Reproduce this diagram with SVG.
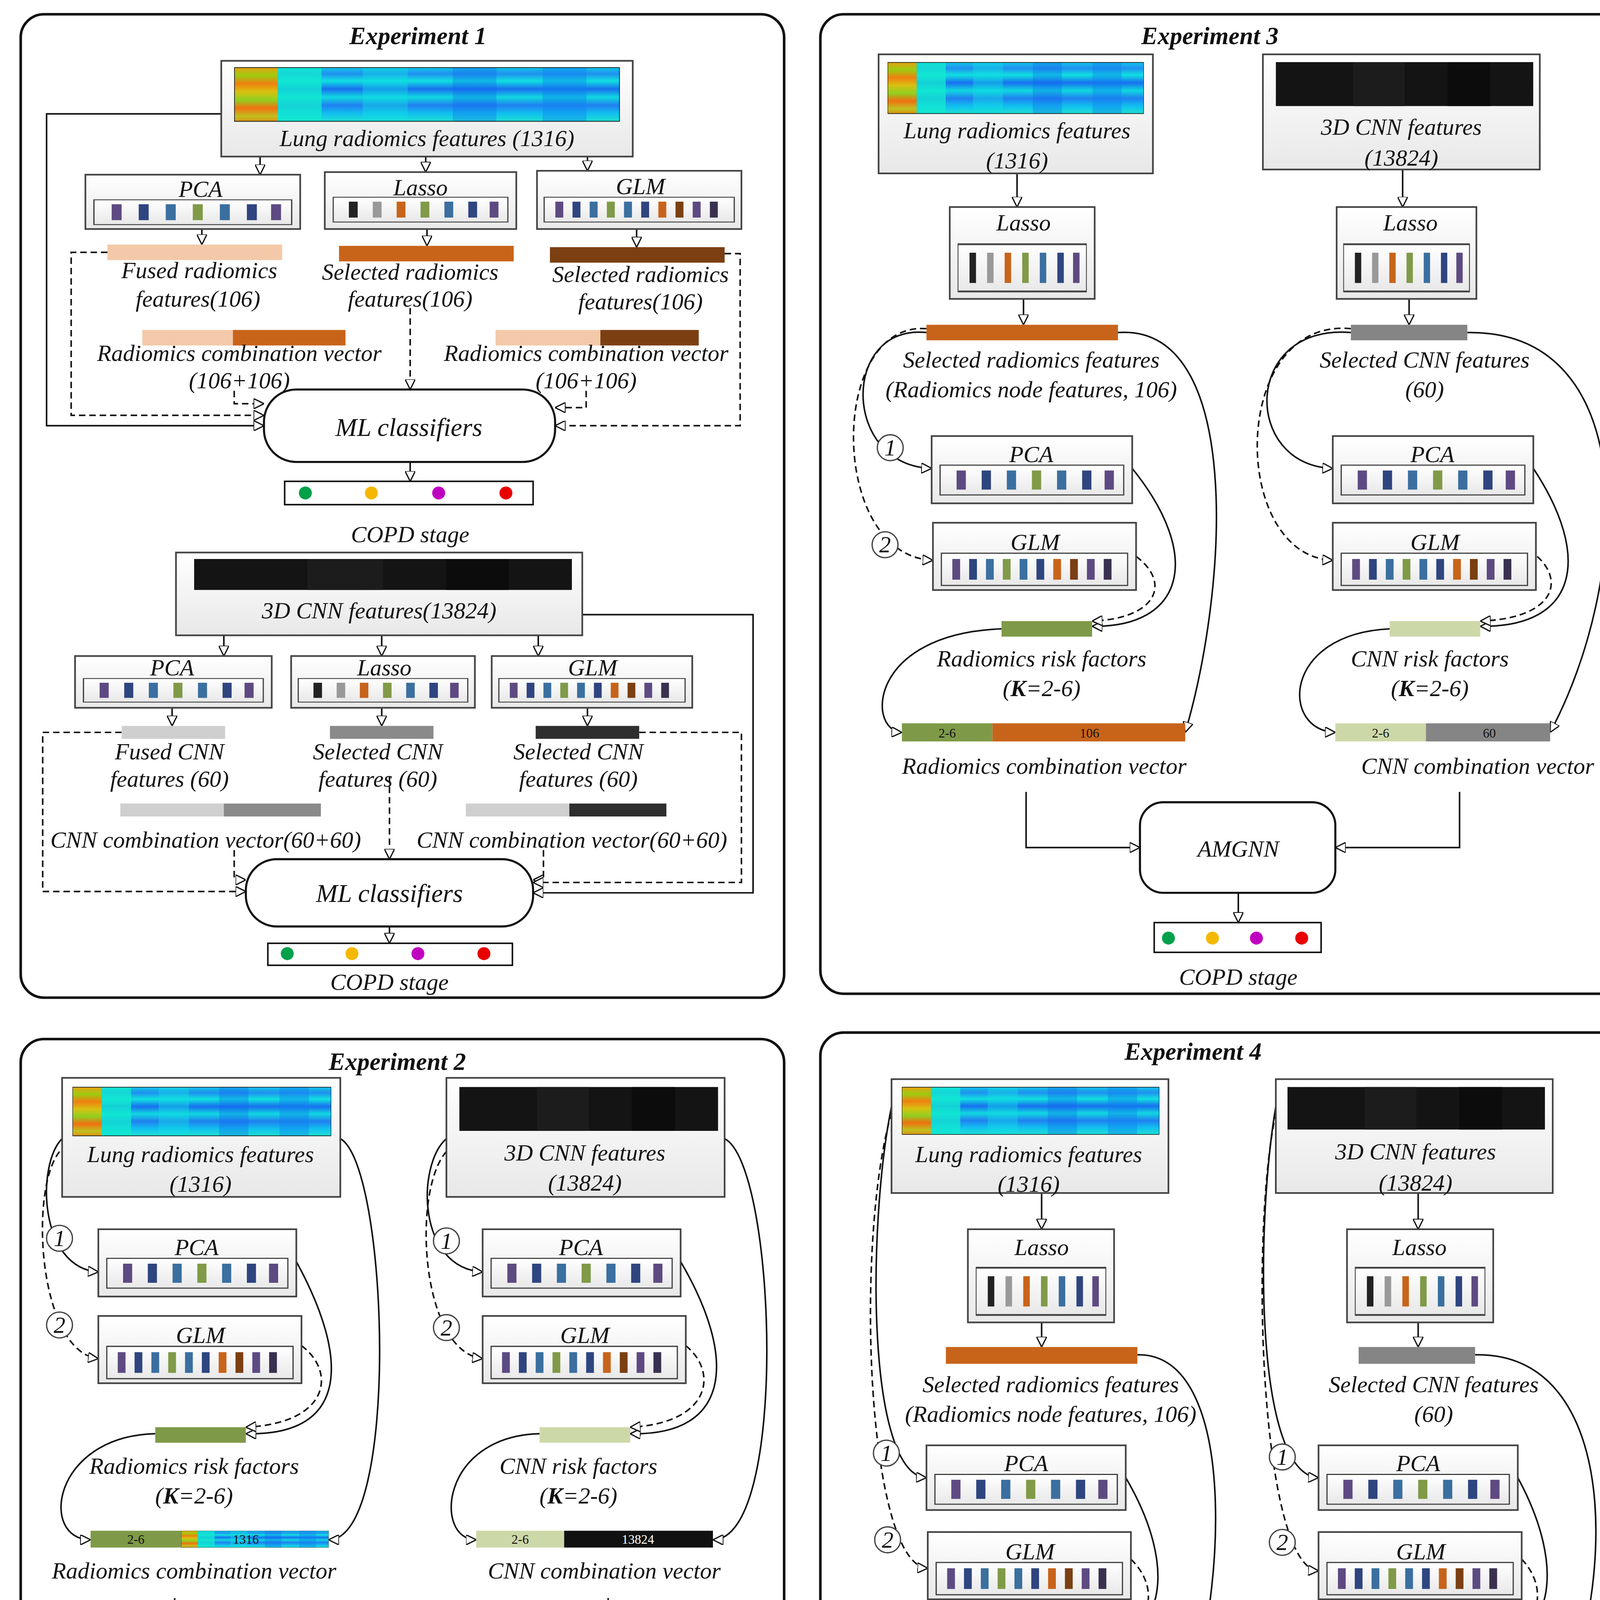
<svg xmlns="http://www.w3.org/2000/svg" xmlns:xlink="http://www.w3.org/1999/xlink" width="4240" height="5163" viewBox="0 0 4240 5163">
<style>
text{font-family:"Liberation Serif",serif;font-style:italic;fill:#111;text-anchor:middle}
.t{font-size:18px}
.h{font-size:19px;font-weight:bold}
.s{font-size:10px;font-style:normal}
.panel{fill:#fff;stroke:#111;stroke-width:2}
.box{fill:url(#bg);stroke:#444;stroke-width:1.3}
.rbox{fill:#fff;stroke:#111;stroke-width:1.6}
.leg{fill:#eef0e4;stroke:#555;stroke-width:1}
.c{fill:none;stroke:#111;stroke-width:1.2}
.d{fill:none;stroke:#111;stroke-width:1.2;stroke-dasharray:5,3}
.a{marker-end:url(#ar)}
.circ{fill:#fff;stroke:#444;stroke-width:1}
</style>
<defs>
<linearGradient id="bg" x1="0" y1="0" x2="0" y2="1"><stop offset="0" stop-color="#fff"/><stop offset="1" stop-color="#e8e8e8"/></linearGradient>
<linearGradient id="warm" x1="0" y1="0" x2="0" y2="1"><stop offset="0" stop-color="#e8a010"/><stop offset=".15" stop-color="#9ccc10"/><stop offset=".3" stop-color="#f08010"/><stop offset=".45" stop-color="#d8c010"/><stop offset=".6" stop-color="#90d020"/><stop offset=".75" stop-color="#f07010"/><stop offset=".9" stop-color="#c0c020"/><stop offset="1" stop-color="#e09010"/></linearGradient>
<linearGradient id="cool" x1="0" y1="0" x2="0" y2="1"><stop offset="0" stop-color="#10c8e8"/><stop offset=".12" stop-color="#2090f0"/><stop offset=".25" stop-color="#10e0e0"/><stop offset=".4" stop-color="#1870f0"/><stop offset=".55" stop-color="#10d8e0"/><stop offset=".7" stop-color="#2080f0"/><stop offset=".85" stop-color="#10c0f0"/><stop offset="1" stop-color="#20e0d0"/></linearGradient>
<marker id="ar" viewBox="0 0 10 10" refX="10" refY="5" markerWidth="8" markerHeight="8" orient="auto" markerUnits="userSpaceOnUse"><path d="M0,0 L10,5 L0,10 Z" fill="#fff" stroke="#111" stroke-width="1.2"/></marker>
<symbol id="heat" viewBox="0 0 300 40" preserveAspectRatio="none"><rect width="300" height="40" fill="url(#cool)"/><rect width="34" height="40" fill="url(#warm)"/><rect x="34" width="34" height="40" fill="#12e8d0" opacity=".8"/><rect x="100" width="35" height="40" fill="#10e0e0" opacity=".4"/><rect x="170" width="34" height="40" fill="#1060f0" opacity=".3"/><rect x="240" width="34" height="40" fill="#1080f0" opacity=".4"/><rect x="0" y="0" width="300" height="40" fill="none" stroke="#111" stroke-width="1"/></symbol>
<symbol id="dark" viewBox="0 0 300 40" preserveAspectRatio="none"><rect width="300" height="40" fill="#141414"/><rect x="90" width="60" height="40" fill="#1c1c1c"/><rect x="200" width="50" height="40" fill="#0c0c0c"/></symbol>
<symbol id="pca" viewBox="0 0 140 26" preserveAspectRatio="none"><rect x=".5" y=".5" width="139" height="25" fill="url(#bg)" stroke="#444"/><rect x="13" y="5" width="7" height="16" fill="#5e4a82"/><rect x="32" y="5" width="7" height="16" fill="#2f4580"/><rect x="51" y="5" width="7" height="16" fill="#3a6fa0"/><rect x="70" y="5" width="7" height="16" fill="#809a48"/><rect x="89" y="5" width="7" height="16" fill="#3a6fa0"/><rect x="108" y="5" width="7" height="16" fill="#2f4580"/><rect x="125" y="5" width="7" height="16" fill="#5e4a82"/></symbol>
<symbol id="lasso" viewBox="0 0 140 26" preserveAspectRatio="none"><rect x=".5" y=".5" width="139" height="25" fill="url(#bg)" stroke="#444"/><rect x="13" y="5" width="7" height="16" fill="#222"/><rect x="32" y="5" width="7" height="16" fill="#999"/><rect x="51" y="5" width="7" height="16" fill="#c8641a"/><rect x="70" y="5" width="7" height="16" fill="#809a48"/><rect x="89" y="5" width="7" height="16" fill="#3a6fa0"/><rect x="108" y="5" width="7" height="16" fill="#2f4580"/><rect x="125" y="5" width="7" height="16" fill="#5e4a82"/></symbol>
<symbol id="glm" viewBox="0 0 145 26" preserveAspectRatio="none"><rect x=".5" y=".5" width="144" height="25" fill="url(#bg)" stroke="#444"/><rect x="9" y="5" width="6" height="16" fill="#5e4a82"/><rect x="22" y="5" width="6" height="16" fill="#2f4580"/><rect x="35" y="5" width="6" height="16" fill="#3a6fa0"/><rect x="48" y="5" width="6" height="16" fill="#809a48"/><rect x="61" y="5" width="6" height="16" fill="#3a6fa0"/><rect x="74" y="5" width="6" height="16" fill="#2f4580"/><rect x="87" y="5" width="6" height="16" fill="#c8641a"/><rect x="100" y="5" width="6" height="16" fill="#7b3f12"/><rect x="113" y="5" width="6" height="16" fill="#5e4a82"/><rect x="126" y="5" width="6" height="16" fill="#3a3050"/></symbol>
</defs>
<g transform="scale(3.3125)">
<rect width="1280" height="1559" fill="#fff"/>
<g id="panels">
<rect class="panel" x="16" y="11" width="590" height="760" rx="18"/>
<rect class="panel" x="634" y="11" width="643" height="757" rx="18"/>
<rect class="panel" x="16" y="803" width="590" height="592" rx="18"/>
<rect class="panel" x="634" y="798" width="643" height="755" rx="18"/>
<rect x="16" y="1412" width="592" height="140" rx="18" fill="#fff" stroke="#111" stroke-width="1.3" stroke-dasharray="12,6"/>
<text class="h" x="323" y="34">Experiment 1</text>
<text class="h" x="935" y="34">Experiment 3</text>
<text class="h" x="307" y="827">Experiment 2</text>
<text class="h" x="922" y="819">Experiment 4</text>
</g>
<g id="connectors">
<!-- exp1 -->
<path class="c a" d="M201,121V135"/><path class="c a" d="M329,121V133"/><path class="c a" d="M454,121V132"/>
<path class="c a" d="M156,177V189"/><path class="c a" d="M330,177V190"/><path class="c a" d="M492,177V191"/>
<path class="c a" d="M171,88H36V329H204"/>
<path class="d a" d="M83,195H55V321H204"/>
<path class="d a" d="M181,302V312H204"/>
<path class="d a" d="M317,238V301"/>
<path class="d a" d="M453,302V315H429"/>
<path class="d a" d="M560,196H572V329H429"/>
<path class="c a" d="M317,357V372"/>
<path class="c a" d="M173,491V507"/><path class="c a" d="M295,491V507"/><path class="c a" d="M416,491V507"/>
<path class="c a" d="M133,547V561"/><path class="c a" d="M295,547V561"/><path class="c a" d="M454,547V561"/>
<path class="c a" d="M450,475H582V690H412"/>
<path class="d a" d="M94,566H33V689H190"/>
<path class="d a" d="M181,657V680H190"/>
<path class="d a" d="M301,600V664"/>
<path class="d a" d="M420,657V680H412"/>
<path class="d a" d="M494,566H573V682H412"/>
<path class="c a" d="M301,716V729"/>
<!-- exp2 -->
<path class="c a" d="M48,880C28,900 30,980 76,983"/>
<path class="d a" d="M46,890C22,920 30,1045 76,1050"/>
<path class="c a" d="M229,975C270,1050 270,1110 190,1108"/>
<path class="d a" d="M233,1040C260,1060 255,1100 190,1103"/>
<path class="c a" d="M120,1108C40,1110 30,1190 70,1190"/>
<path class="c a" d="M263,880C300,900 310,1190 254,1190"/>
<path class="c a" d="M345,880C322,900 322,980 373,983"/>
<path class="d a" d="M345,890C318,920 325,1045 373,1050"/>
<path class="c a" d="M526,975C570,1050 565,1110 487,1108"/>
<path class="d a" d="M530,1040C555,1060 550,1100 487,1103"/>
<path class="c a" d="M417,1108C340,1110 335,1190 368,1190"/>
<path class="c a" d="M560,880C600,900 610,1190 551,1190"/>
<path class="c a" d="M135,1235V1276H223"/>
<path class="c a" d="M470,1235V1276H375"/>
<path class="c a" d="M300,1311V1337"/>
<!-- exp3 -->
<path class="c a" d="M786,134V160"/><path class="c a" d="M1084,131V160"/><path class="c a" d="M791,231V251"/><path class="c a" d="M1089,231V251"/>
<path class="c a" d="M716,257C650,250 650,360 720,362"/>
<path class="d a" d="M716,254C640,248 640,430 721,433"/>
<path class="c a" d="M875,362C930,430 915,485 844,484"/>
<path class="d a" d="M878,430C905,450 895,478 844,480"/>
<path class="c a" d="M774,486C670,490 670,565 697,566"/>
<path class="c a" d="M864,257C960,250 950,450 916,566"/>
<path class="c a" d="M1044,257C960,250 960,360 1030,362"/>
<path class="d a" d="M1044,254C950,245 950,430 1030,433"/>
<path class="c a" d="M1185,362C1230,430 1220,485 1144,484"/>
<path class="d a" d="M1188,430C1210,450 1200,478 1144,480"/>
<path class="c a" d="M1074,486C990,490 990,565 1032,566"/>
<path class="c a" d="M1134,257C1270,255 1260,450 1198,566"/>
<path class="c a" d="M793,612V655H881"/>
<path class="c a" d="M1128,612V655H1032"/>
<path class="c a" d="M957,690V713"/>
<!-- exp4 -->
<path class="c a" d="M805,922V950"/><path class="c a" d="M1096,922V950"/><path class="c a" d="M805,1022V1041"/><path class="c a" d="M1096,1022V1041"/>
<path class="c a" d="M689,855C670,950 670,1140 716,1142"/>
<path class="d a" d="M689,860C660,960 670,1210 717,1212"/>
<path class="c a" d="M870,1142C910,1210 905,1275 831,1275"/>
<path class="d a" d="M874,1205C900,1230 890,1270 831,1271"/>
<path class="c a" d="M761,1275C670,1280 680,1355 713,1354"/>
<path class="c a" d="M879,1047C960,1045 950,1250 905,1354"/>
<path class="c a" d="M986,855C970,950 970,1140 1019,1142"/>
<path class="d a" d="M986,860C965,960 975,1212 1019,1214"/>
<path class="c a" d="M1173,1142C1210,1210 1205,1275 1134,1275"/>
<path class="d a" d="M1176,1205C1200,1230 1190,1270 1134,1271"/>
<path class="c a" d="M1064,1275C980,1280 985,1355 1027,1357"/>
<path class="c a" d="M1140,1047C1260,1045 1250,1250 1190,1357"/>
<path class="c a" d="M782,1390V1437H870"/>
<path class="c a" d="M1118,1392V1437H1022"/>
<path class="c a" d="M947,1473V1497"/>
</g>
<g id="exp1">
<g id="e1-lung"><rect class="box" x="171" y="47" width="318" height="74"/><use href="#heat" x="181" y="52" width="298" height="42"/><text class="t" x="330" y="113">Lung radiomics features (1316)</text></g>
<g id="e1-pca"><rect class="box" x="66" y="135" width="166" height="42"/><text class="t" x="155" y="152">PCA</text><use href="#pca" x="72" y="154" width="154" height="20"/></g>
<g id="e1-lasso"><rect class="box" x="251" y="133" width="148" height="44"/><text class="t" x="325" y="151">Lasso</text><use href="#lasso" x="257" y="152" width="136" height="20"/></g>
<g id="e1-glm"><rect class="box" x="415" y="132" width="158" height="45"/><text class="t" x="495" y="150">GLM</text><use href="#glm" x="420" y="152" width="148" height="20"/></g>
<rect x="83" y="189" width="135" height="12" fill="#f3c9a9"/>
<rect x="262" y="190" width="135" height="12" fill="#c8641a"/>
<rect x="425" y="191" width="135" height="12" fill="#7b3f12"/>
<text class="t" x="154" y="215">Fused radiomics</text><text class="t" x="153" y="237">features(106)</text>
<text class="t" x="317" y="216">Selected radiomics</text><text class="t" x="317" y="237">features(106)</text>
<text class="t" x="495" y="218">Selected radiomics</text><text class="t" x="495" y="239">features(106)</text>
<rect x="110" y="255" width="70" height="12" fill="#f3c9a9"/><rect x="180" y="255" width="87" height="12" fill="#c8641a"/>
<rect x="383" y="255" width="81" height="12" fill="#f3c9a9"/><rect x="464" y="255" width="76" height="12" fill="#7b3f12"/>
<text class="t" x="185" y="279">Radiomics combination vector</text><text class="t" x="185" y="300">(106+106)</text>
<text class="t" x="453" y="279">Radiomics combination vector</text><text class="t" x="453" y="300">(106+106)</text>
<g id="e1-ml"><rect class="rbox" x="204" y="301" width="225" height="56" rx="25"/><text class="t" x="316" y="337" style="font-size:20px">ML classifiers</text></g>
<g id="e1-copd"><rect x="220" y="372" width="192" height="18" fill="#fff" stroke="#111" stroke-width="1.2"/><circle cx="236" cy="381" r="5" fill="#00a14b"/><circle cx="287" cy="381" r="5" fill="#f5b800"/><circle cx="339" cy="381" r="5" fill="#c000c0"/><circle cx="391" cy="381" r="5" fill="#e80000"/><text class="t" x="317" y="419">COPD stage</text></g>
<g id="e1-cnn"><rect class="box" x="136" y="427" width="314" height="64"/><use href="#dark" x="150" y="432" width="292" height="24"/><text class="t" x="293" y="478">3D CNN features(13824)</text></g>
<g id="e1-pca2"><rect class="box" x="58" y="507" width="152" height="40"/><text class="t" x="133" y="522">PCA</text><use href="#pca" x="64" y="524" width="140" height="19"/></g>
<g id="e1-lasso2"><rect class="box" x="225" y="507" width="142" height="40"/><text class="t" x="297" y="522">Lasso</text><use href="#lasso" x="230" y="524" width="132" height="19"/></g>
<g id="e1-glm2"><rect class="box" x="380" y="507" width="155" height="40"/><text class="t" x="458" y="522">GLM</text><use href="#glm" x="385" y="524" width="145" height="19"/></g>
<rect x="94" y="561" width="80" height="10" fill="#cfcfcf"/><rect x="255" y="561" width="80" height="10" fill="#8a8a8a"/><rect x="414" y="561" width="80" height="10" fill="#2e2e2e"/>
<text class="t" x="131" y="587">Fused CNN</text><text class="t" x="131" y="608">features (60)</text>
<text class="t" x="292" y="587">Selected CNN</text><text class="t" x="292" y="608">features (60)</text>
<text class="t" x="447" y="587">Selected CNN</text><text class="t" x="447" y="608">features (60)</text>
<rect x="93" y="621" width="80" height="10" fill="#cfcfcf"/><rect x="173" y="621" width="75" height="10" fill="#8a8a8a"/>
<rect x="360" y="621" width="80" height="10" fill="#cfcfcf"/><rect x="440" y="621" width="75" height="10" fill="#2e2e2e"/>
<text class="t" x="159" y="655">CNN combination vector(60+60)</text><text class="t" x="442" y="655">CNN combination vector(60+60)</text>
<g id="e1-ml2"><rect class="rbox" x="190" y="664" width="222" height="52" rx="24"/><text class="t" x="301" y="697" style="font-size:20px">ML classifiers</text></g>
<g id="e1-copd2"><rect x="207" y="729" width="189" height="17" fill="#fff" stroke="#111" stroke-width="1.2"/><circle cx="222" cy="737" r="5" fill="#00a14b"/><circle cx="272" cy="737" r="5" fill="#f5b800"/><circle cx="323" cy="737" r="5" fill="#c000c0"/><circle cx="374" cy="737" r="5" fill="#e80000"/><text class="t" x="301" y="765">COPD stage</text></g>
</g>
<g id="exp2">
<g id="e2-lung"><rect class="box" x="48" y="833" width="215" height="92"/><use href="#heat" x="56" y="840" width="200" height="38"/><text class="t" x="155" y="898">Lung radiomics features</text><text class="t" x="155" y="921">(1316)</text></g>
<g id="e2-cnn"><rect class="box" x="345" y="833" width="215" height="92"/><use href="#dark" x="355" y="840" width="200" height="34"/><text class="t" x="452" y="897">3D CNN features</text><text class="t" x="452" y="920">(13824)</text></g>
<g id="e2-pca"><rect class="box" x="76" y="950" width="153" height="52"/><text class="t" x="152" y="970">PCA</text><use href="#pca" x="82" y="972" width="141" height="24"/></g>
<g id="e2-glm"><rect class="box" x="76" y="1017" width="157" height="52"/><text class="t" x="155" y="1038">GLM</text><use href="#glm" x="82" y="1040" width="145" height="26"/></g>
<g id="e2-pca2"><rect class="box" x="373" y="950" width="153" height="52"/><text class="t" x="449" y="970">PCA</text><use href="#pca" x="379" y="972" width="141" height="24"/></g>
<g id="e2-glm2"><rect class="box" x="373" y="1017" width="157" height="52"/><text class="t" x="452" y="1038">GLM</text><use href="#glm" x="379" y="1040" width="145" height="26"/></g>
<circle class="circ" cx="46" cy="957" r="10"/><text class="t" x="46" y="963">1</text>
<circle class="circ" cx="46" cy="1024" r="10"/><text class="t" x="46" y="1030">2</text>
<circle class="circ" cx="345" cy="959" r="10"/><text class="t" x="345" y="965">1</text>
<circle class="circ" cx="345" cy="1026" r="10"/><text class="t" x="345" y="1032">2</text>
<rect x="120" y="1103" width="70" height="12" fill="#7e9a48"/>
<text class="t" x="150" y="1139">Radiomics risk factors</text><text class="t" x="150" y="1162">(<tspan font-weight="bold">K</tspan>=2-6)</text>
<rect x="70" y="1183" width="70" height="13" fill="#7e9a48"/><use href="#heat" x="140" y="1183" width="114" height="13"/>
<text class="s" x="105" y="1193">2-6</text><text class="s" x="190" y="1193">1316</text>
<text class="t" x="150" y="1220">Radiomics combination vector</text>
<rect x="417" y="1103" width="70" height="12" fill="#cdd8a8"/>
<text class="t" x="447" y="1139">CNN risk factors</text><text class="t" x="447" y="1162">(<tspan font-weight="bold">K</tspan>=2-6)</text>
<rect x="368" y="1183" width="68" height="13" fill="#cdd8a8"/><rect x="436" y="1183" width="115" height="13" fill="#111"/>
<text class="s" x="402" y="1193">2-6</text><text class="s" x="493" y="1193" style="fill:#fff">13824</text>
<text class="t" x="467" y="1220">CNN combination vector</text>
<g id="e2-amgnn"><rect class="rbox" x="223" y="1241" width="152" height="70" rx="18"/><text class="t" x="300" y="1283">AMGNN</text></g>
<g id="e2-copd"><rect x="234" y="1337" width="130" height="23" fill="#fff" stroke="#111" stroke-width="1.2"/><circle cx="246" cy="1350" r="5" fill="#00a14b"/><circle cx="280" cy="1350" r="5" fill="#f5b800"/><circle cx="314" cy="1350" r="5" fill="#c000c0"/><circle cx="349" cy="1350" r="5" fill="#e80000"/><text class="t" x="300" y="1386">COPD stage</text></g>
</g>
<g id="exp3">
<g id="e3-lung"><rect class="box" x="679" y="42" width="212" height="92"/><use href="#heat" x="686" y="48" width="198" height="40"/><text class="t" x="786" y="107">Lung radiomics features</text><text class="t" x="786" y="130">(1316)</text></g>
<g id="e3-cnn"><rect class="box" x="976" y="42" width="214" height="89"/><use href="#dark" x="986" y="48" width="199" height="34"/><text class="t" x="1083" y="104">3D CNN features</text><text class="t" x="1083" y="128">(13824)</text></g>
<g id="e3-lasso"><rect class="box" x="734" y="160" width="112" height="71"/><text class="t" x="791" y="178">Lasso</text><use href="#lasso" x="740" y="188" width="100" height="38"/></g>
<g id="e3-lasso2"><rect class="box" x="1033" y="160" width="108" height="71"/><text class="t" x="1090" y="178">Lasso</text><use href="#lasso" x="1038" y="188" width="98" height="38"/></g>
<rect x="716" y="251" width="148" height="12" fill="#c8641a"/><rect x="1044" y="251" width="90" height="12" fill="#858585"/>
<text class="t" x="797" y="284">Selected radiomics features</text><text class="t" x="797" y="307">(Radiomics node features, 106)</text>
<text class="t" x="1101" y="284">Selected CNN features</text><text class="t" x="1101" y="307">(60)</text>
<g id="e3-pca"><rect class="box" x="720" y="337" width="155" height="52"/><text class="t" x="797" y="357">PCA</text><use href="#pca" x="726" y="359" width="143" height="24"/></g>
<g id="e3-glm"><rect class="box" x="721" y="404" width="157" height="52"/><text class="t" x="800" y="425">GLM</text><use href="#glm" x="727" y="427" width="145" height="26"/></g>
<g id="e3-pca2"><rect class="box" x="1030" y="337" width="155" height="52"/><text class="t" x="1107" y="357">PCA</text><use href="#pca" x="1036" y="359" width="143" height="24"/></g>
<g id="e3-glm2"><rect class="box" x="1030" y="404" width="157" height="52"/><text class="t" x="1109" y="425">GLM</text><use href="#glm" x="1036" y="427" width="145" height="26"/></g>
<circle class="circ" cx="688" cy="346" r="10"/><text class="t" x="688" y="352">1</text>
<circle class="circ" cx="684" cy="421" r="10"/><text class="t" x="684" y="427">2</text>
<rect x="774" y="480" width="70" height="12" fill="#7e9a48"/>
<text class="t" x="805" y="515">Radiomics risk factors</text><text class="t" x="805" y="538">(<tspan font-weight="bold">K</tspan>=2-6)</text>
<rect x="697" y="559" width="70" height="14" fill="#7e9a48"/><rect x="767" y="559" width="149" height="14" fill="#c8641a"/>
<text class="s" x="732" y="570">2-6</text><text class="s" x="842" y="570">106</text>
<text class="t" x="807" y="598">Radiomics combination vector</text>
<rect x="1074" y="480" width="70" height="12" fill="#cdd8a8"/>
<text class="t" x="1105" y="515">CNN risk factors</text><text class="t" x="1105" y="538">(<tspan font-weight="bold">K</tspan>=2-6)</text>
<rect x="1032" y="559" width="70" height="14" fill="#cdd8a8"/><rect x="1102" y="559" width="96" height="14" fill="#858585"/>
<text class="s" x="1067" y="570">2-6</text><text class="s" x="1151" y="570">60</text>
<text class="t" x="1142" y="598">CNN combination vector</text>
<g id="e3-amgnn"><rect class="rbox" x="881" y="620" width="151" height="70" rx="18"/><text class="t" x="957" y="662">AMGNN</text></g>
<g id="e3-copd"><rect x="892" y="713" width="129" height="23" fill="#fff" stroke="#111" stroke-width="1.2"/><circle cx="903" cy="725" r="5" fill="#00a14b"/><circle cx="937" cy="725" r="5" fill="#f5b800"/><circle cx="971" cy="725" r="5" fill="#c000c0"/><circle cx="1006" cy="725" r="5" fill="#e80000"/><text class="t" x="957" y="761">COPD stage</text></g>
</g>
<g id="exp4">
<g id="e4-lung"><rect class="box" x="689" y="834" width="214" height="88"/><use href="#heat" x="697" y="840" width="199" height="37"/><text class="t" x="795" y="898">Lung radiomics features</text><text class="t" x="795" y="921">(1316)</text></g>
<g id="e4-cnn"><rect class="box" x="986" y="834" width="214" height="88"/><use href="#dark" x="995" y="840" width="199" height="33"/><text class="t" x="1094" y="896">3D CNN features</text><text class="t" x="1094" y="920">(13824)</text></g>
<g id="e4-lasso"><rect class="box" x="748" y="950" width="113" height="72"/><text class="t" x="805" y="970">Lasso</text><use href="#lasso" x="754" y="979" width="101" height="38"/></g>
<g id="e4-lasso2"><rect class="box" x="1041" y="950" width="113" height="72"/><text class="t" x="1097" y="970">Lasso</text><use href="#lasso" x="1047" y="979" width="101" height="38"/></g>
<rect x="731" y="1041" width="148" height="13" fill="#c8641a"/><rect x="1050" y="1041" width="90" height="13" fill="#858585"/>
<text class="t" x="812" y="1076">Selected radiomics features</text><text class="t" x="812" y="1099">(Radiomics node features, 106)</text>
<text class="t" x="1108" y="1076">Selected CNN features</text><text class="t" x="1108" y="1099">(60)</text>
<g id="e4-pca"><rect class="box" x="716" y="1117" width="154" height="50"/><text class="t" x="793" y="1137">PCA</text><use href="#pca" x="722" y="1139" width="142" height="24"/></g>
<g id="e4-glm"><rect class="box" x="717" y="1184" width="157" height="52"/><text class="t" x="796" y="1205">GLM</text><use href="#glm" x="723" y="1207" width="145" height="26"/></g>
<g id="e4-pca2"><rect class="box" x="1019" y="1117" width="154" height="50"/><text class="t" x="1096" y="1137">PCA</text><use href="#pca" x="1025" y="1139" width="142" height="24"/></g>
<g id="e4-glm2"><rect class="box" x="1019" y="1184" width="157" height="52"/><text class="t" x="1098" y="1205">GLM</text><use href="#glm" x="1025" y="1207" width="145" height="26"/></g>
<circle class="circ" cx="685" cy="1123" r="10"/><text class="t" x="685" y="1129">1</text>
<circle class="circ" cx="686" cy="1190" r="10"/><text class="t" x="686" y="1196">2</text>
<circle class="circ" cx="991" cy="1126" r="10"/><text class="t" x="991" y="1132">1</text>
<circle class="circ" cx="991" cy="1192" r="10"/><text class="t" x="991" y="1198">2</text>
<rect x="761" y="1269" width="70" height="13" fill="#0a9e4a"/>
<text class="t" x="792" y="1305">Radiomics risk factors</text><text class="t" x="792" y="1329">(<tspan font-weight="bold">K</tspan>=2-6)</text>
<rect x="713" y="1347" width="70" height="14" fill="#0a9e4a"/><rect x="783" y="1347" width="122" height="14" fill="#c8641a"/>
<text class="s" x="748" y="1358">2-6</text><text class="s" x="844" y="1358">106</text>
<text class="t" x="792" y="1384">Radiomics combination vector</text>
<rect x="1064" y="1269" width="70" height="13" fill="#cdd8a8"/>
<text class="t" x="1094" y="1305">CNN risk factors</text><text class="t" x="1094" y="1329">(<tspan font-weight="bold">K</tspan>=2-6)</text>
<rect x="1027" y="1350" width="70" height="14" fill="#cdd8a8"/><rect x="1097" y="1350" width="93" height="14" fill="#858585"/>
<text class="s" x="1062" y="1361">2-6</text><text class="s" x="1144" y="1361">60</text>
<text class="t" x="1097" y="1387">CNN combination vector</text>
<g id="e4-amgnn"><rect class="rbox" x="870" y="1401" width="152" height="72" rx="18"/><text class="t" x="947" y="1444">AMGNN</text></g>
<g id="e4-copd"><rect x="882" y="1497" width="130" height="24" fill="#fff" stroke="#111" stroke-width="1.2"/><circle cx="893" cy="1509" r="5" fill="#00a14b"/><circle cx="926" cy="1509" r="5" fill="#f5b800"/><circle cx="961" cy="1509" r="5" fill="#c000c0"/><circle cx="996" cy="1509" r="5" fill="#e80000"/><text class="t" x="947" y="1546">COPD stage</text></g>
</g>
<g id="legend">
<text class="t" x="313" y="1441">ML classifiers</text>
<rect class="leg" x="29" y="1449" width="280" height="26"/><text class="t" x="169" y="1468" style="font-size:16px">Support vector machine (SVM)</text>
<rect class="leg" x="318" y="1449" width="280" height="26"/><text class="t" x="458" y="1468" style="font-size:16px">Logistic regression (LR)</text>
<rect class="leg" x="29" y="1482" width="280" height="26"/><text class="t" x="169" y="1501" style="font-size:16px">Multi-layer perceptron (MLP)</text>
<rect class="leg" x="318" y="1482" width="280" height="26"/><text class="t" x="458" y="1501" style="font-size:16px">Gradient boosting (GB)</text>
<rect class="leg" x="29" y="1516" width="280" height="26"/><text class="t" x="169" y="1535" style="font-size:16px">Random forest (RF)</text>
<rect class="leg" x="318" y="1516" width="280" height="26"/><text class="t" x="458" y="1535" style="font-size:16px">Linear discriminant analysis (LDA)</text>
</g>
</g>
</svg>
